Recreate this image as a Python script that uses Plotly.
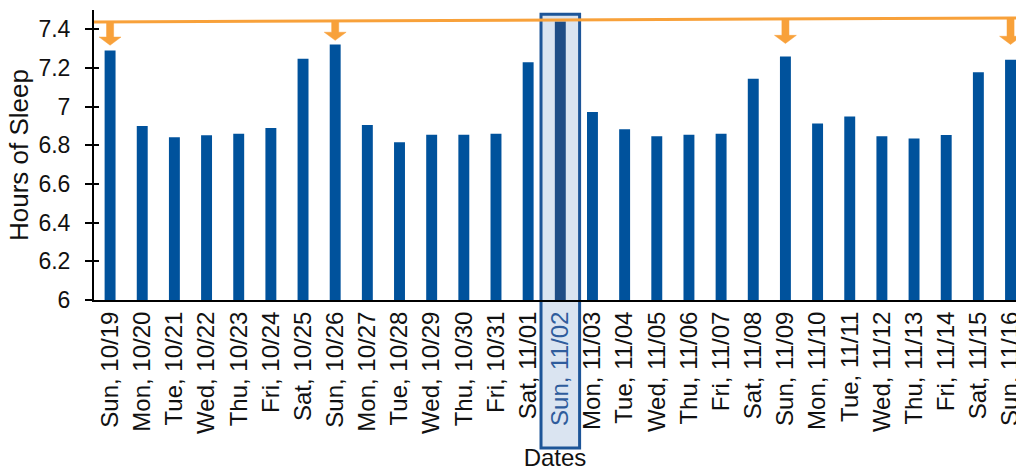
import plotly.graph_objects as go

# ---- data ----
dates = ["Sun, 10/19", "Mon, 10/20", "Tue, 10/21", "Wed, 10/22", "Thu, 10/23",
         "Fri, 10/24", "Sat, 10/25", "Sun, 10/26", "Mon, 10/27", "Tue, 10/28",
         "Wed, 10/29", "Thu, 10/30", "Fri, 10/31", "Sat, 11/01", "Sun, 11/02",
         "Mon, 11/03", "Tue, 11/04", "Wed, 11/05", "Thu, 11/06", "Fri, 11/07",
         "Sat, 11/08", "Sun, 11/09", "Mon, 11/10", "Tue, 11/11", "Wed, 11/12",
         "Thu, 11/13", "Fri, 11/14", "Sat, 11/15", "Sun, 11/16"]
hours = [7.29, 6.90, 6.842, 6.852, 6.86, 6.89, 7.248, 7.322, 6.905, 6.816,
         6.855, 6.855, 6.86, 7.23, 7.44, 6.973, 6.883, 6.847, 6.855, 6.86,
         7.145, 7.26, 6.913, 6.949, 6.847, 6.835, 6.854, 7.178, 7.243]
highlight_date = "Sun, 11/02"
arrow_dates = ["Sun, 10/19", "Sun, 10/26", "Sun, 11/09", "Sun, 11/16"]
arrow_tip_hours = [7.318, 7.343, 7.327, 7.322]
line_hours = [7.438, 7.459]   # orange reference line, left end / right end
y_ticks = [6, 6.2, 6.4, 6.6, 6.8, 7, 7.2, 7.4]

# ---- styling ----
BLUE = "#00529c"
BLUE_HI = "#1f4d86"
ORANGE = "#f8a13a"
FONT = "Liberation Sans, Arial, sans-serif"
X_RANGE = [-0.5, 28.17]
Y_RANGE = [6, 7.5]

n = len(dates)
xs = list(range(n))
hi = dates.index(highlight_date)
colors = [BLUE_HI if i == hi else BLUE for i in xs]
ticktext = [f"<span style='color:#2f5c9c'>{d}</span>" if i == hi else d
            for i, d in enumerate(dates)]

fig = go.Figure()
fig.add_trace(go.Bar(x=xs, y=hours, marker=dict(color=colors, line=dict(width=0)),
                     width=0.34, yaxis="y", hoverinfo="skip"))

# orange reference line (on overlay axis so it is drawn above bars)
fig.add_trace(go.Scatter(x=X_RANGE, y=line_hours, mode="lines",
                         line=dict(color=ORANGE, width=3), yaxis="y2",
                         hoverinfo="skip"))


def line_at(x):
    t = (x - X_RANGE[0]) / (X_RANGE[1] - X_RANGE[0])
    return line_hours[0] + t * (line_hours[1] - line_hours[0])


shaft_hw, head_hw, head_h = 0.11, 0.34, 0.042
for d, tip in zip(arrow_dates, arrow_tip_hours):
    i = dates.index(d)
    top = line_at(i)
    px = [i - shaft_hw, i + shaft_hw, i + shaft_hw, i + head_hw, i,
          i - head_hw, i - shaft_hw, i - shaft_hw]
    py = [top, top, tip + head_h, tip + head_h, tip, tip + head_h,
          tip + head_h, top]
    fig.add_trace(go.Scatter(x=px, y=py, mode="lines", fill="toself",
                             fillcolor=ORANGE, line=dict(color=ORANGE, width=0.5),
                             yaxis="y2", hoverinfo="skip"))

# highlight box around selected date (extends over the tick label)
span = X_RANGE[1] - X_RANGE[0]
fig.add_shape(type="rect", xref="paper", yref="paper",
              x0=(hi - 0.6 - X_RANGE[0]) / span, x1=(hi + 0.6 - X_RANGE[0]) / span,
              y0=-0.51, y1=0.985, layer="below",
              fillcolor="#dae4f1", line=dict(color="#1d5598", width=3))

fig.update_layout(
    width=1016, height=471,
    margin=dict(l=94, r=0, t=10, b=171),
    plot_bgcolor="white", paper_bgcolor="white",
    showlegend=False,
    font=dict(family=FONT, color="#111111", size=22),
    xaxis=dict(range=X_RANGE, tickmode="array", tickvals=xs, ticktext=ticktext,
               tickangle=-90, showline=True, linecolor="black", linewidth=2,
               ticks="", showgrid=False, zeroline=False, automargin=False,
               ticklabeloverflow="allow",
               tickfont=dict(size=24, family=FONT, color="#111111"),
               title=dict(text="Dates", font=dict(size=24, family=FONT), standoff=16)),
    yaxis=dict(range=Y_RANGE, tickmode="array", tickvals=y_ticks,
               ticks="outside", ticklen=7, tickwidth=2, tickcolor="black",
               showline=True, linecolor="black", linewidth=2, showgrid=False,
               zeroline=False, ticklabelstandoff=10, automargin=False,
               tickfont=dict(size=23, family=FONT, color="#111111"),
               title=dict(text="Hours of Sleep", font=dict(size=26, family=FONT),
                          standoff=2)),
    yaxis2=dict(range=Y_RANGE, overlaying="y", side="left", tickmode="array",
                tickvals=y_ticks, ticks="inside", ticklen=5, tickwidth=2,
                tickcolor="black", showticklabels=False, showline=False,
                showgrid=False, zeroline=False, automargin=False),
)

fig.write_html("out.html", config={"displayModeBar": False},
               post_script="document.body.style.margin='0';"
                           "document.body.style.overflow='hidden';")
